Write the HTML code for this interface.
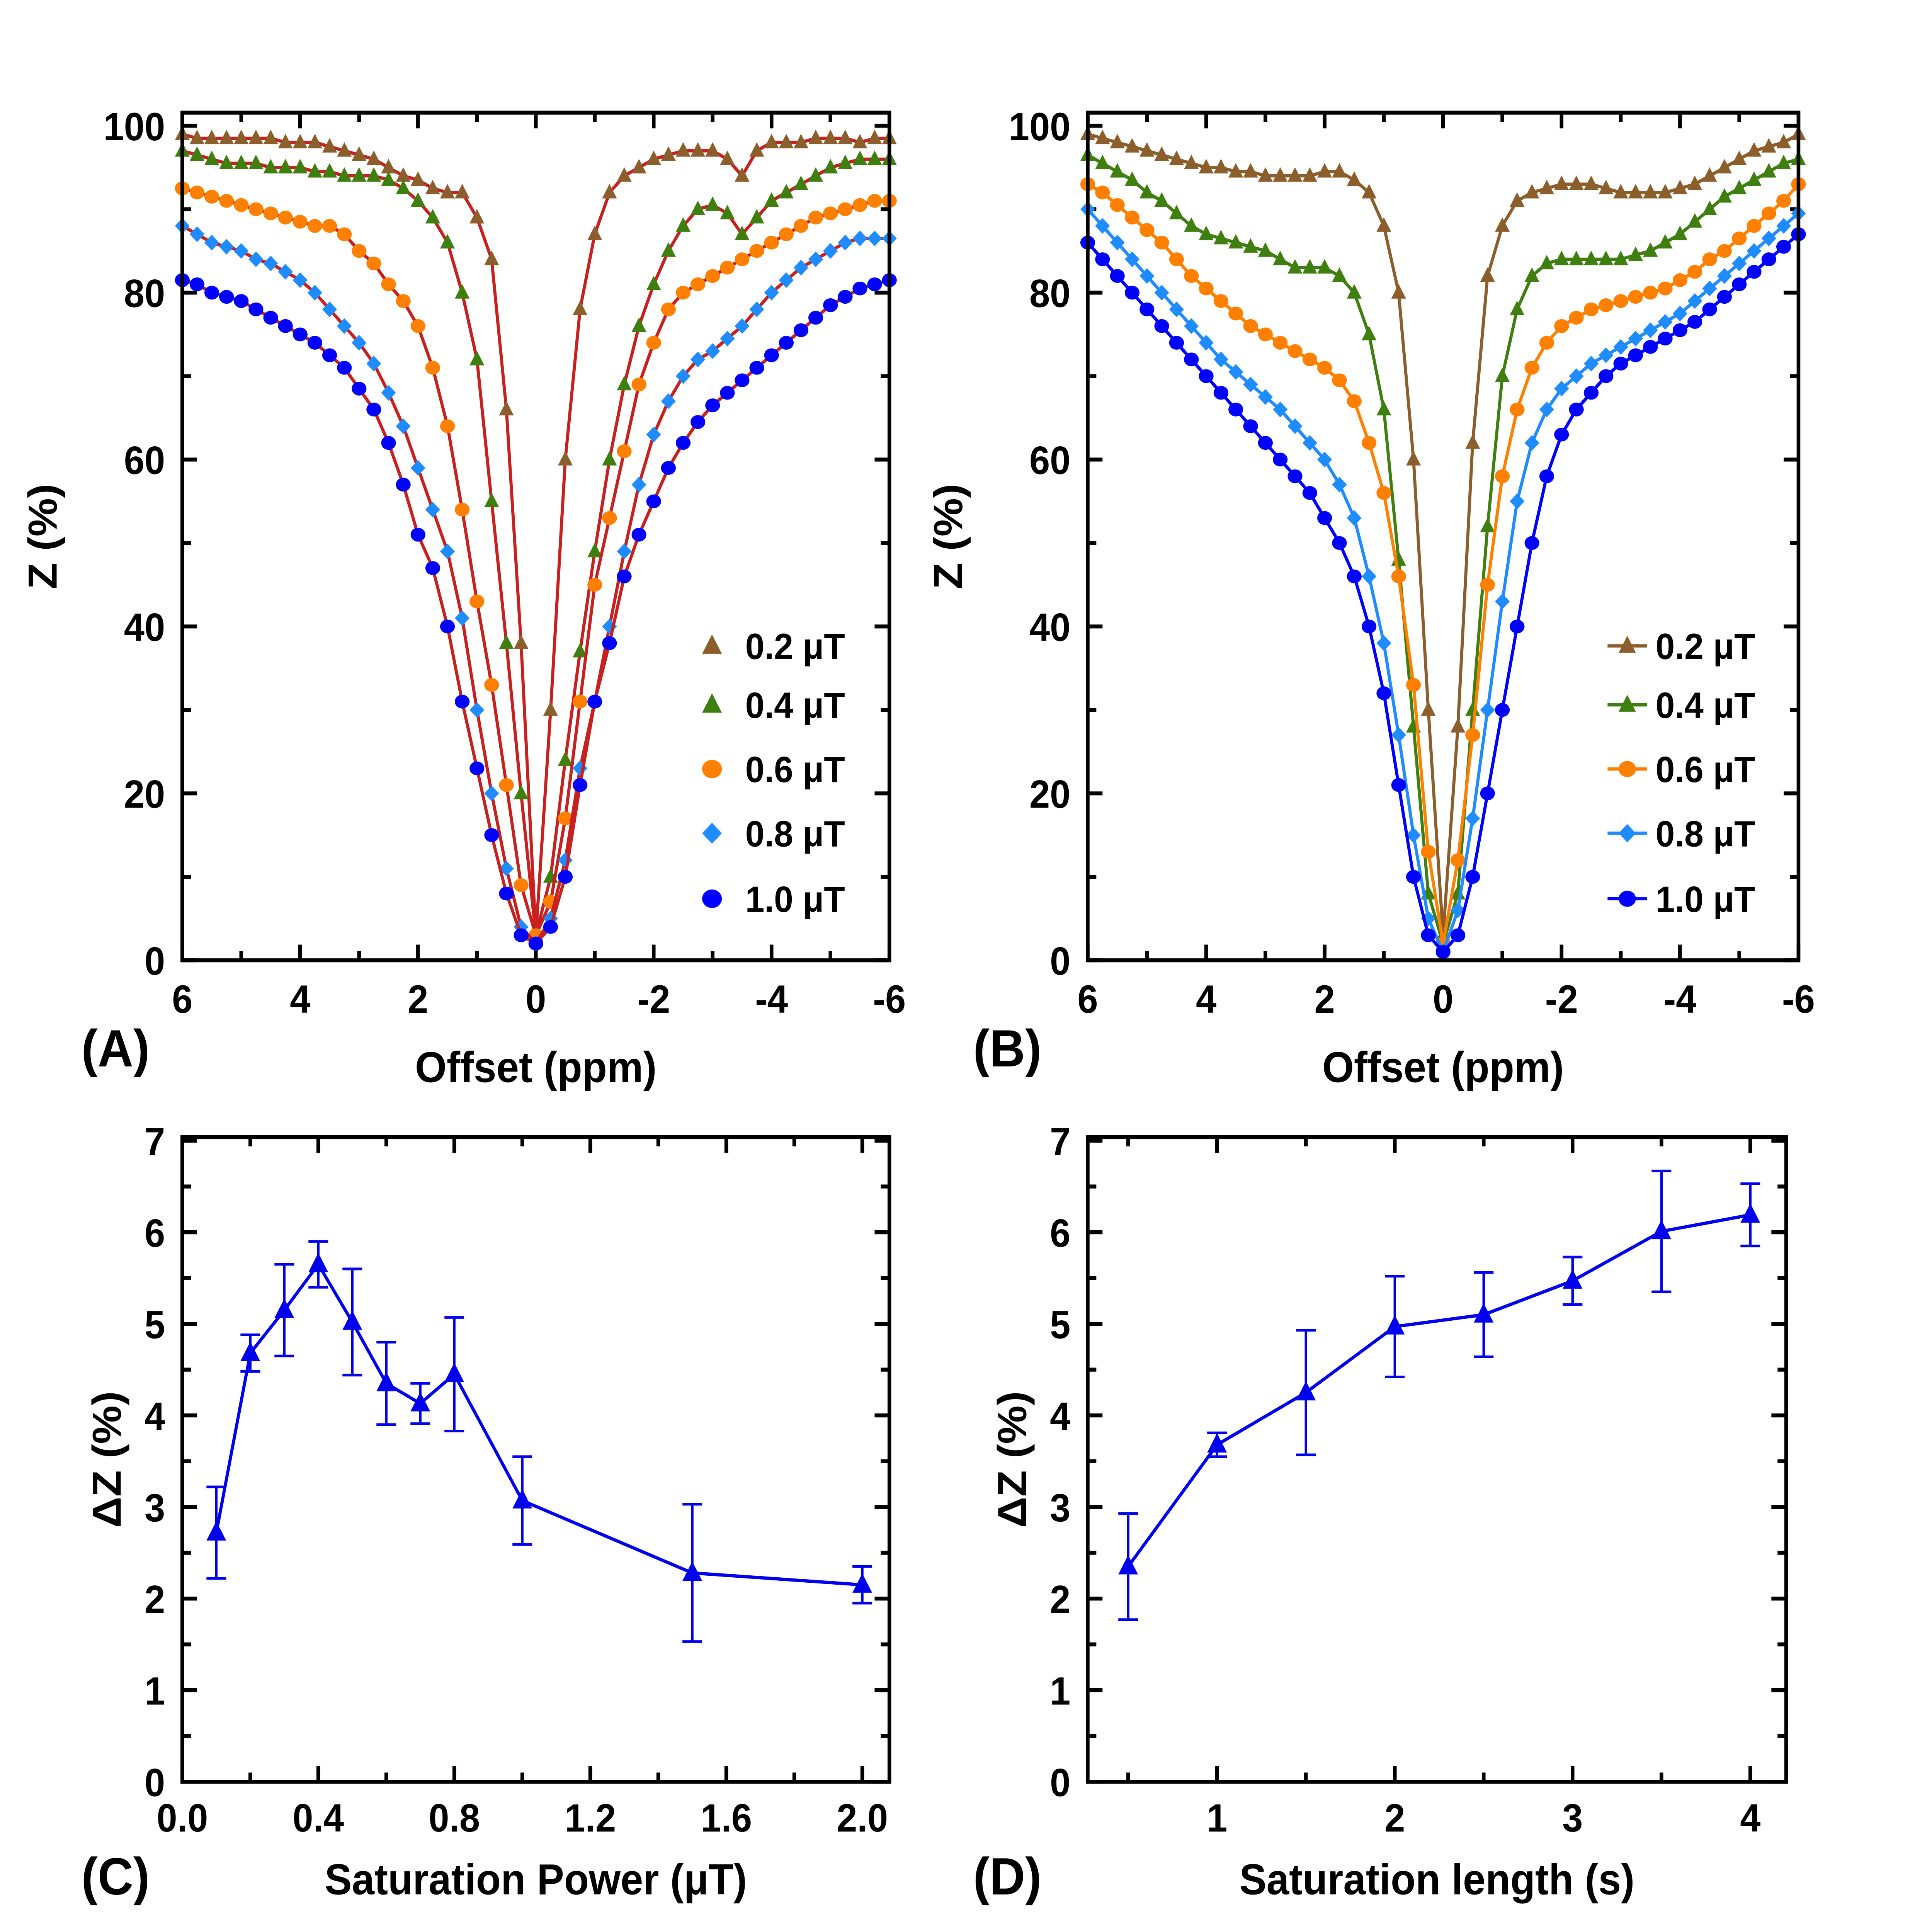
<!DOCTYPE html>
<html><head><meta charset="utf-8"><style>
html,body{margin:0;padding:0;background:#fff;width:100%;height:100%;overflow:hidden}
svg{display:block;position:fixed;left:0;top:0;width:100vw;height:100vh}
text{font-family:"Liberation Sans",Arial,sans-serif;font-weight:bold;fill:#000}
</style></head><body>
<svg id="fig" xmlns="http://www.w3.org/2000/svg" width="100%" height="100%" viewBox="0 0 1548 1457" preserveAspectRatio="none"><g id="root" transform="scale(0.987,0.988)"></g></svg>
<script>
const offsets=[6,5.75,5.5,5.25,5,4.75,4.5,4.25,4,3.75,3.5,3.25,3,2.75,2.5,2.25,2,1.75,1.5,1.25,1,0.75,0.5,0.25,0,-0.25,-0.5,-0.75,-1,-1.25,-1.5,-1.75,-2,-2.25,-2.5,-2.75,-3,-3.25,-3.5,-3.75,-4,-4.25,-4.5,-4.75,-5,-5.25,-5.5,-5.75,-6];
const seriesLabels=["0.2 μT","0.4 μT","0.6 μT","0.8 μT","1.0 μT"];
const zA02=[99,98.5,98.5,98.5,98.5,98.5,98.5,98,98,98,97.5,97,96.5,96,95,94,93.5,92.5,92,92,89,84,66,38,3,30,60,78,87,92,94,95,96,96.5,97,97,97,96,94,97,98,98,98,98.5,98.5,98.5,98,98.5,98.5];
const zA04=[97,96.5,96,95.5,95.5,95.5,95,95,95,94.5,94.5,94,94,94,93.5,92.5,91,89,86,80,72,55,38,20,3,10,24,37,49,60,69,76,81,85,88,90,90.5,89.5,87,89,91,92,93,94,95,95.5,96,96,96];
const zA06=[92.5,92,91.5,91,90.5,90,89.5,89,88.5,88,88,87,85,83.5,81,79,76,71,64,54,43,33,21,9,3,7,17,31,45,53,61,69,74,78,80,81,82,83,84,85,86,87,88,89,89.5,90,90.5,91,91];
const zA08=[88,87,86,85.5,85,84,83.5,82.5,81.5,80,78,76,74,71.5,68,64,59,54,49,41,30,20,11,4,2,5,12,23,31,40,49,57,63,67,70,72,73,74.5,76,78,80,81.5,83,84,85,86,86.5,86.5,86.5];
const zA10=[81.5,81,80,79.5,79,78,77,76,75,74,72.5,71,68.5,66,62,57,51,47,40,31,23,15,8,3,2,4,10,21,31,38,46,51,55,59,62,64.5,66.5,68,69.5,71,72.5,74,75.5,77,78.5,79.5,80.5,81,81.5];
const zB02=[99,98.5,98,97.5,97,96.5,96,95.5,95,95,94.5,94.5,94,94,94,94,94.5,94.5,93.5,92,88,80,60,30,3,28,62,82,88,91,92,92.5,93,93,93,92.5,92,92,92,92,92.5,93,94,95,96,97,97.5,98,99];
const zB04=[96.5,95.5,94.5,93.5,92,91,89.5,88,87,86.5,86,85.5,85,84,83,83,83,82,80,75,66,48,28,8,2,8,30,52,70,78,82,83.5,84,84,84,84,84,84.5,85,86,87,88.5,90,91.5,92.5,93.5,94.5,95.5,96];
const zB06=[93,92,90.5,89,87.5,86,84,82,80.5,79,77.5,76,75,74,73,72,71,69.5,67,62,56,46,33,13,2,12,27,45,58,66,71,74,76,77,78,78.5,79,79.5,80,80.5,81.5,82.5,84,85,86.5,88,89.5,91,93];
const zB08=[90,88,86,84,82,80,78,76,74,72,70.5,69,67.5,66,64,62,60,57,53,46,38,27,15,5,1,6,17,30,43,55,62,66,68.5,70,71.5,72.5,73.5,74.5,75.5,76.5,77.5,79,80.5,82,83.5,85,86.5,88,89.5];
const zB10=[86,84,82,80,78,76,74,72,70,68,66,64,62,60,58,56,53,50,46,40,32,21,10,3,1,3,10,20,30,40,50,58,63,66,68,70,71.5,72.5,73.5,74.5,75.5,76.5,78,79.5,81,82.5,84,85.5,87];
const powerX=[0.1,0.2,0.3,0.4,0.5,0.6,0.7,0.8,1.0,1.5,2.0];
const powerDZ=[2.72,4.68,5.15,5.65,5.02,4.35,4.13,4.45,3.07,2.28,2.15];
const powerErr=[0.5,0.2,0.5,0.25,0.58,0.45,0.22,0.62,0.48,0.75,0.2];
const lenX=[0.5,1,1.5,2,2.5,3,3.5,4];
const lenDZ=[2.35,3.68,4.25,4.97,5.1,5.47,6.01,6.19];
const lenErr=[0.58,0.13,0.68,0.55,0.46,0.26,0.66,0.34];

const colors=["#8B5E2B","#3F7F0F","#FF8000","#1E8CFF","#0000FF"];
const shapes=["tri","tri","circ","dia","circ"];
const NS="http://www.w3.org/2000/svg";
const svg=document.getElementById("root");
function el(tag,attrs,parent){const e=document.createElementNS(NS,tag);for(const k in attrs)e.setAttribute(k,attrs[k]);(parent||svg).appendChild(e);return e;}
function txt(s,x,y,size,anchor,parent,name){const t=el("text",{x:x,y:y,"font-size":size,"text-anchor":anchor||"middle"},parent);t.textContent=s;


return t;}
function marker(shape,x,y,c,r,g){let m;
 if(shape==="tri")m=el("polygon",{points:`${x},${y-r*1.1} ${x-r},${y+r*0.75} ${x+r},${y+r*0.75}`,fill:c},g);
 else if(shape==="dia")m=el("polygon",{points:`${x},${y-r} ${x+r},${y} ${x},${y+r} ${x-r},${y}`,fill:c},g);
 else m=el("ellipse",{cx:x,cy:y,rx:r,ry:r*0.88,fill:c},g);
 
 
 return m;}
function frame(x0,y0,x1,y1,name){const r=el("rect",{x:x0,y:y0,width:x1-x0,height:y1-y0,fill:"none",stroke:"#000","stroke-width":3});
 
 }

function zPanel(px0,px1,data,lineColor,tag,labelX){
 const y0=86,y1=733;
 const X=v=>px0+(6-v)/12*(px1-px0), Y=v=>733-v*6.37;
 const g=el("g",{});
 
 
 frame(px0,y0,px1,y1,'plot-frame-'+tag);
 for(let v=6;v>=-6;v-=1){const x=X(v),maj=v%2===0;const L=maj?12:7;
  el("line",{x1:x,y1:y1,x2:x,y2:y1-L,stroke:"#000","stroke-width":3},g);
  el("line",{x1:x,y1:y0,x2:x,y2:y0+L,stroke:"#000","stroke-width":3},g);
  if(maj)txt(String(v),x,y1+40,30,"middle",g,'x-tick-label');}
 for(let v=0;v<=100;v+=10){const y=Y(v),maj=v%20===0,L=maj?12:7;
  el("line",{x1:px0,y1:y,x2:px0+L,y2:y,stroke:"#000","stroke-width":3},g);
  el("line",{x1:px1,y1:y,x2:px1-L,y2:y,stroke:"#000","stroke-width":3},g);
  if(maj)txt(String(v),px0-14,y+11,30,"end",g,'y-tick-label');}
 txt("Offset (ppm)",(px0+px1)/2,826,33,"middle",g,'x-axis-title');
 const yt=txt("Z (%)",0,0,33,"middle",g,'y-axis-title');yt.setAttribute("transform",`translate(${px0-102},${(y0+y1)/2}) rotate(-90)`);
 txt(tag,labelX,814,40,"start",g,'panel-label');
 data.forEach((arr,i)=>{const c=lineColor?lineColor:colors[i];
  const pts=arr.map((v,j)=>X(offsets[j]).toFixed(1)+","+Y(v).toFixed(1)).join(" ");
  const pl=el("polyline",{points:pts,fill:"none",stroke:c,"stroke-width":2.5},g);
  
  
  arr.forEach((v,j)=>marker(shapes[i],X(offsets[j]),Y(v),colors[i],6,g));
 });
}
zPanel(148,722,[zA02,zA04,zA06,zA08,zA10],"#C8201E","(A)",66);
zPanel(883,1460,[zB02,zB04,zB06,zB08,zB10],null,"(B)",790);
const legY=[493,538,587,636,686];
seriesLabels.forEach((s,i)=>{
 const ga=el("g",{});
 marker(shapes[i],578,legY[i],colors[i],8,ga);
 txt(s,605,legY[i]+10,28,"start",ga,'legend-label');
 const gb=el("g",{});
 el("line",{x1:1305,y1:legY[i],x2:1337,y2:legY[i],stroke:colors[i],"stroke-width":2.5},gb);
 marker(shapes[i],1321,legY[i],colors[i],7,gb);
 txt(s,1344,legY[i]+10,28,"start",gb,'legend-label');
});

function dzPanel(sx,ex,X,xs,ys,es,ticks,minor,xtitle,tag,labelX){
 const y0=868,y1=1360,Y=v=>1360-v*69.9;
 const g=el("g",{});
 frame(sx,y0,ex,y1,'plot-frame-'+tag);
 ticks.forEach(v=>{const x=X(v);el("line",{x1:x,y1:y1,x2:x,y2:y1-12,stroke:"#000","stroke-width":3},g);
  el("line",{x1:x,y1:y0,x2:x,y2:y0+12,stroke:"#000","stroke-width":3},g);
  txt(tag==="(C)"?v.toFixed(1):String(v),x,y1+38,30,"middle",g,'x-tick-label');});
 minor.forEach(v=>{const x=X(v);el("line",{x1:x,y1:y1,x2:x,y2:y1-7,stroke:"#000","stroke-width":3},g);
  el("line",{x1:x,y1:y0,x2:x,y2:y0+7,stroke:"#000","stroke-width":3},g);});
 for(let v=0;v<=7;v+=0.5){const y=Y(v),maj=v%1===0,L=maj?12:7;
  el("line",{x1:sx,y1:y,x2:sx+L,y2:y,stroke:"#000","stroke-width":3},g);
  el("line",{x1:ex,y1:y,x2:ex-L,y2:y,stroke:"#000","stroke-width":3},g);
  if(maj)txt(String(v),sx-14,y+11,30,"end",g,'y-tick-label');}
 txt(xtitle,(sx+ex)/2,1446,33,"middle",g,'x-axis-title');
 const yt=txt("ΔZ (%)",0,0,33,"middle",g,'y-axis-title');yt.setAttribute("transform",`translate(${sx-50},${(y0+y1)/2}) rotate(-90)`);
 txt(tag,labelX,1446,40,"start",g,'panel-label');
 const c="#0000EE";
 const pl=el("polyline",{points:xs.map((v,i)=>X(v)+","+Y(ys[i])).join(" "),fill:"none",stroke:c,"stroke-width":2.5},g);
 
 xs.forEach((v,i)=>{const x=X(v),yt2=Y(ys[i]+es[i]),yb=Y(ys[i]-es[i]);
  const eb=el("path",{d:`M${x},${yt2}V${yb}M${x-8},${yt2}H${x+8}M${x-8},${yb}H${x+8}`,stroke:c,"stroke-width":2,fill:"none"},g);
  
  marker("tri",x,Y(ys[i]),c,8,g);});
}
dzPanel(148,722,v=>148+v*276,powerX,powerDZ,powerErr,[0,0.4,0.8,1.2,1.6,2.0],[0.2,0.6,1.0,1.4,1.8],"Saturation Power (μT)","(C)",66);
dzPanel(883,1450,v=>988+(v-1)*144.3,lenX,lenDZ,lenErr,[1,2,3,4],[0.5,1.5,2.5,3.5],"Saturation length (s)","(D)",790);
</script>
</body></html>
